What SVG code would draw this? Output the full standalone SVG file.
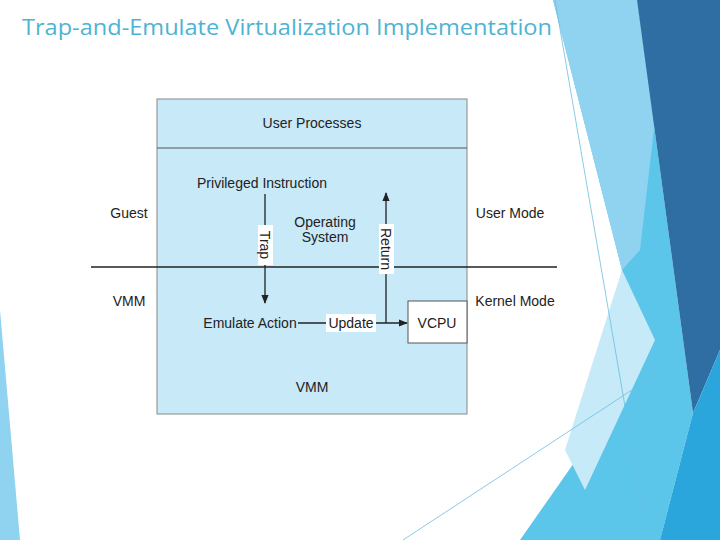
<svg xmlns="http://www.w3.org/2000/svg" width="720" height="540" viewBox="0 0 720 540">
<defs>
<style>
.t{font-family:"Liberation Sans",Arial,sans-serif;font-size:14px;fill:#222}
.c{text-anchor:middle}
.ln{stroke:#222;stroke-width:1.3;fill:none}
</style>
<marker id="ah" viewBox="0 0 10 10" refX="9" refY="5" markerWidth="7" markerHeight="7" orient="auto"><path d="M0,1 L10,5 L0,9 z" fill="#222"/></marker>
</defs>
<rect width="720" height="540" fill="#fff"/>
<g id="background">
<polygon points="553,0 637,0 693,413 660,540 520,540 590,440 622,270" fill="#5cc6ea"/>
<polygon points="553,0 637,0 655,120 640,250 622,270" fill="#8fd3f0"/>
<polygon points="622,270 655,340 585,490 565,450" fill="#c6eaf8"/>
<polygon points="637,0 720,0 720,350 693,413" fill="#2e6ea3"/>
<polygon points="693,413 720,350 720,540 660,540" fill="#2aa6dc"/>
<polygon points="0,310 20,540 0,540" fill="#8fd3f0"/>
<line x1="555" y1="0" x2="648" y2="540" stroke="#6bbfe0" stroke-width="0.8"/>
<line x1="403" y1="540" x2="670" y2="365" stroke="#6bbfe0" stroke-width="0.8"/>
</g>
<text x="22" y="35" font-family="'Open Sans','DejaVu Sans',sans-serif" font-size="22" fill="#4eb3d3" textLength="530" lengthAdjust="spacingAndGlyphs">Trap-and-Emulate  Virtualization Implementation</text>
<g id="vmbox">
<rect x="157" y="99" width="310" height="315" fill="#c8e9f8" stroke="#888" stroke-width="1"/>
<line x1="157" y1="148" x2="467" y2="148" stroke="#555" stroke-width="1"/>
<text class="t c" x="312" y="128">User Processes</text>
<text class="t c" x="325" y="227">Operating</text>
<text class="t c" x="325" y="242">System</text>
<text class="t c" x="312" y="392">VMM</text>
</g>
<g id="labels">
<text class="t c" x="129" y="218">Guest</text>
<text class="t c" x="510" y="218">User Mode</text>
<text class="t c" x="129" y="306">VMM</text>
<text class="t c" x="515" y="306">Kernel Mode</text>
</g>
<g id="privileged"><text class="t c" x="262" y="188">Privileged Instruction</text></g>
<g id="emulate"><text class="t c" x="250" y="328">Emulate Action</text></g>
<g id="vcpu">
<rect x="408" y="301" width="59" height="42" fill="#fff" stroke="#555" stroke-width="1"/>
<text class="t c" x="437" y="328">VCPU</text>
</g>
<g id="connectors">
<line class="ln" x1="91" y1="267" x2="557" y2="267"/>
<line class="ln" x1="265" y1="194" x2="265" y2="303" marker-end="url(#ah)"/>
<line class="ln" x1="386" y1="323" x2="386" y2="193" marker-end="url(#ah)"/>
<line class="ln" x1="298" y1="323" x2="407" y2="323" marker-end="url(#ah)"/>
<rect x="258" y="225" width="15" height="40" fill="#fff"/>
<text class="t c" transform="translate(260,245) rotate(90)">Trap</text>
<rect x="379" y="224" width="15" height="50" fill="#fff"/>
<text class="t c" transform="translate(381,249) rotate(90)">Return</text>
<rect x="326" y="314" width="50" height="18" fill="#fff"/>
<text class="t c" x="351" y="328">Update</text>
</g>
</svg>
